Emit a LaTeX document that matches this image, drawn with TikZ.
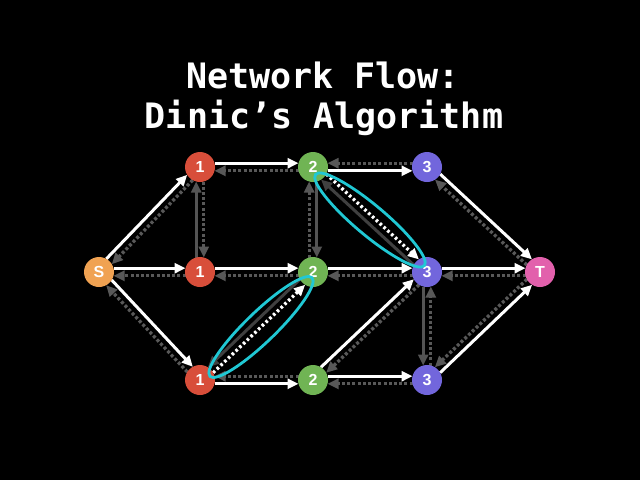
\documentclass[tikz,border=0pt]{standalone}
\usepackage{fontspec}
\usetikzlibrary{calc,arrows.meta}
\newfontfamily\titlefont{DejaVu Sans Mono}
\newfontfamily\nodefont{Liberation Sans}
\definecolor{cS}{RGB}{240,162,82}
\definecolor{cR}{RGB}{216,78,58}
\definecolor{cG}{RGB}{112,180,84}
\definecolor{cP}{RGB}{114,102,220}
\definecolor{cT}{RGB}{226,96,172}
\definecolor{cC}{RGB}{32,200,212}
\definecolor{gdot}{RGB}{88,88,88}
\definecolor{gsol}{RGB}{84,84,84}
\definecolor{gdark}{RGB}{64,64,64}
\pgfdeclarelayer{bg}
\pgfdeclarelayer{edges}
\pgfdeclarelayer{top}
\pgfsetlayers{bg,edges,main,top}
\tikzset{
  vtx/.style={circle, minimum size=30pt, inner sep=0pt, text=white,
    font=\nodefont\bfseries\fontsize{16}{16}\selectfont},
  tip/.style={-{Triangle[length=11pt,width=10pt]}},
  fwd/.style={draw=white, line width=3pt, tip},
  res/.style={draw=gdot, line width=3.3pt, dash pattern=on 3pt off 2.2pt, tip},
  zero/.style={draw=gsol, line width=3pt, tip},
  zerodark/.style={draw=gdark, line width=3pt, tip},
  aug/.style={draw=white, line width=3.3pt, dash pattern=on 2.6pt off 2.6pt, tip},
  hilite/.style={draw=cC, line width=2.8pt},
  title/.style={text=white, anchor=base, inner sep=0pt,
    font=\titlefont\bfseries\fontsize{35}{40}\selectfont},
}
% #1 a, #2 b, #3/#4 offset angles, #5 style a->b, #6 style b->a
\newcommand\twoway[6]{%
  \draw[#5, shorten <=14.5pt, shorten >=14.5pt]
    ($(#1.center)!3.8pt!#3:(#2.center)$) -- ($(#2.center)!3.8pt!#4:(#1.center)$);
  \draw[#6, shorten <=14.5pt, shorten >=14.5pt]
    ($(#2.center)!3.8pt!#3:(#1.center)$) -- ($(#1.center)!3.8pt!#4:(#2.center)$);
}
\begin{document}
\begin{tikzpicture}[x=1pt,y=-1pt]
\begin{pgfonlayer}{bg}
  \fill[black] (0,0) rectangle (640,480);
\end{pgfonlayer}
\useasboundingbox (0,0) rectangle (640,480);

\node[title] (t1) at (323,88) {Network Flow:};
\node[title] (t2) at (324,128) {Dinic’s Algorithm};

\node[vtx, fill=cS] (s)  at (99,272)  {S};
\node[vtx, fill=cR] (a1) at (200,167) {1};
\node[vtx, fill=cR] (b1) at (200,272) {1};
\node[vtx, fill=cR] (c1) at (200,380) {1};
\node[vtx, fill=cG] (d2) at (313,167) {2};
\node[vtx, fill=cG] (e2) at (313,272) {2};
\node[vtx, fill=cG] (f2) at (313,380) {2};
\node[vtx, fill=cP] (g3) at (427,167) {3};
\node[vtx, fill=cP] (h3) at (427,272) {3};
\node[vtx, fill=cP] (i3) at (427,380) {3};
\node[vtx, fill=cT] (t)  at (540,272) {T};

\begin{pgfonlayer}{edges}
\twoway{s}{a1}{90}{270}{fwd}{res}
\twoway{s}{b1}{90}{270}{fwd}{res}
\twoway{s}{c1}{90}{270}{fwd}{res}
\twoway{a1}{d2}{90}{270}{fwd}{res}
\twoway{b1}{e2}{90}{270}{fwd}{res}
\twoway{c1}{f2}{270}{90}{fwd}{res}
\twoway{d2}{g3}{270}{90}{fwd}{res}
\twoway{e2}{h3}{90}{270}{fwd}{res}
\twoway{f2}{h3}{90}{270}{fwd}{res}
\twoway{f2}{i3}{90}{270}{fwd}{res}
\twoway{g3}{t}{90}{270}{fwd}{res}
\twoway{h3}{t}{90}{270}{fwd}{res}
\twoway{i3}{t}{270}{90}{fwd}{res}
\twoway{b1}{a1}{90}{270}{zero}{res}
\twoway{d2}{e2}{90}{270}{zero}{res}
\twoway{h3}{i3}{270}{90}{zero}{res}
\twoway{c1}{e2}{270}{90}{aug}{zerodark}
\twoway{d2}{h3}{90}{270}{aug}{zerodark}
\end{pgfonlayer}

\begin{pgfonlayer}{top}
\coordinate (el1) at (261,327);
\coordinate (el2) at (370,220);
\draw[hilite, rotate around={44:(el1)}] (el1) ellipse [x radius=71pt, y radius=15pt];
\draw[hilite, rotate around={-40:(el2)}] (el2) ellipse [x radius=71pt, y radius=15pt];
\end{pgfonlayer}
\end{tikzpicture}
\end{document}
